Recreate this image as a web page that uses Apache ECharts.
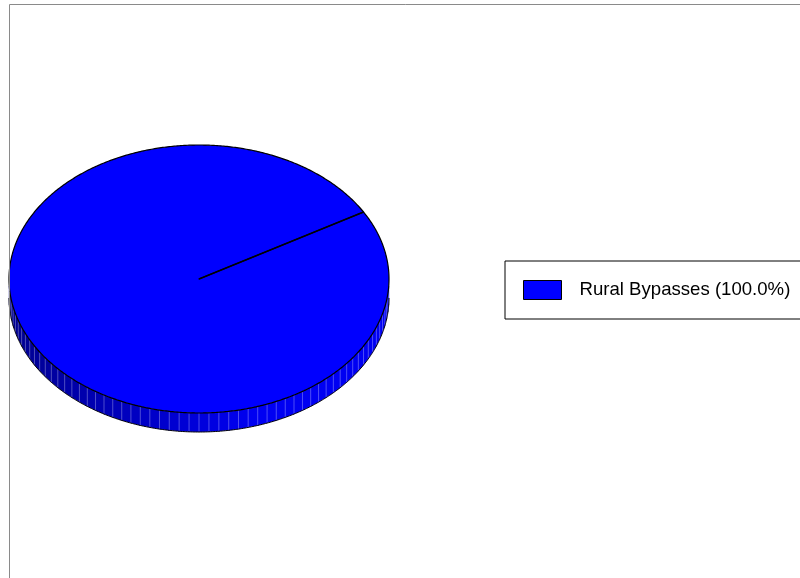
<!DOCTYPE html>
<html><head><meta charset="utf-8">
<script src="https://cdn.jsdelivr.net/npm/echarts@6/dist/echarts.min.js"></script>
<style>html,body{margin:0;padding:0;background:#fff}#c{width:800px;height:578px}</style>
</head><body><div id="c"></div>
<script>
// ---- data ----
const categories = ['Rural Bypasses'];
const values = [100];
const colors = ['#0000FF'];

// ---- geometry / style ----
const START = 30;          // degrees, first slice boundary (math convention)
const CX = 199, CY = 279, RX = 190, RY = 134, DEPTH = 19;
const STRIPE = 3;          // degrees between side stripes

const total = values.reduce((a, b) => a + b, 0);
const legendNames = categories.map((c, i) => c + ' (' + (values[i] / total * 100).toFixed(1) + '%)');

const rad = d => d * Math.PI / 180;
const pt = (d, off) => [CX + RX * Math.cos(rad(d)), CY - RY * Math.sin(rad(d)) + (off || 0)];

function rgbOf(hex) {
  const n = parseInt(hex.slice(1), 16);
  return [(n >> 16) & 255, (n >> 8) & 255, n & 255];
}
function shade(hex, b, w) {
  const c = rgbOf(hex).map(x => x * b);
  const m = c.map(x => Math.round(x + (255 - x) * (w || 0)));
  return 'rgb(' + m.join(',') + ')';
}

function makeRender(i) {
  return function (params, api) {
    let before = 0;
    for (let k = 0; k < i; k++) before += values[k];
    const v = api.value(1);
    const a0 = START - before / total * 360;
    const a1 = a0 - v / total * 360;
    const col = colors[i % colors.length];
    const children = [];
    const bright = m => Math.min(0.95, 0.86 + 0.3 * Math.cos(rad(m)));

    // side segments
    const breaks = [a1];
    for (let d = Math.ceil(a1 / STRIPE) * STRIPE; d < a0; d += STRIPE) if (d > a1) breaks.push(d);
    breaks.push(a0);
    for (let k = 0; k < breaks.length - 1; k++) {
      const s = breaks[k], e = breaks[k + 1];
      const m = (s + e) / 2;
      if (Math.sin(rad(m)) >= 0) continue;
      const c = shade(col, bright(m), 0);
      children.push({
        type: 'polygon',
        shape: { points: [pt(s - 0.3), pt(e + 0.3), pt(e + 0.3, DEPTH), pt(s - 0.3, DEPTH)] },
        style: { fill: c, lineWidth: 0 }
      });
    }
    // stripes
    for (let k = 1; k < breaks.length - 1; k++) {
      const d = breaks[k];
      if (Math.sin(rad(d)) >= -0.02) continue;
      const p1 = pt(d), p2 = pt(d, DEPTH);
      children.push({
        type: 'line',
        shape: { x1: p1[0], y1: p1[1], x2: p2[0], y2: p2[1] },
        style: { stroke: shade(col, bright(d), 0.3), lineWidth: 1, fill: null }
      });
    }
    // bottom outline
    let seg = [];
    const pushSeg = () => {
      if (seg.length > 1) children.push({ type: 'polyline', shape: { points: seg }, style: { stroke: '#000', lineWidth: 1, fill: null } });
      seg = [];
    };
    for (let d = a1; d <= a0 + 1e-6; d += 0.5) {
      if (Math.sin(rad(d)) <= 0) seg.push(pt(d, DEPTH)); else pushSeg();
    }
    pushSeg();

    // top face
    const top = [[CX, CY]];
    for (let d = a0; d >= a1 - 1e-6; d -= 0.5) top.push(pt(d));
    top.push(pt(a1));
    children.push({
      type: 'polygon',
      shape: { points: top },
      style: { fill: col, stroke: '#000', lineWidth: 1.2, lineJoin: 'round' }
    });
    // slice boundary line
    const pb = pt(a0);
    children.push({
      type: 'line',
      shape: { x1: CX, y1: CY, x2: pb[0], y2: pb[1] },
      style: { stroke: '#000', lineWidth: 1.6, fill: null }
    });
    return { type: 'group', children: children };
  };
}

const chart = echarts.init(document.getElementById('c'), null, { renderer: 'canvas' });
chart.setOption({
  animation: false,
  backgroundColor: '#fff',
  legend: {
    orient: 'vertical',
    left: 505,
    top: 261,
    padding: [19, 60, 19, 18],
    borderColor: '#000',
    borderWidth: 1,
    borderRadius: 0,
    itemWidth: 38,
    itemHeight: 19,
    icon: 'rect',
    itemStyle: { borderColor: '#000', borderWidth: 1 },
    textStyle: { fontSize: 18.6, fontFamily: 'Liberation Sans, Arial, sans-serif', color: '#000', padding: [0, 0, 0, 13] },
    data: legendNames
  },
  graphic: [{
    type: 'rect',
    z: 100,
    shape: { x: 9.5, y: 4.5, width: 1000, height: 800 },
    style: { fill: 'none', stroke: '#8a8a8a', lineWidth: 1 },
    silent: true
  }],
  series: categories.map((c, i) => ({
    type: 'custom',
    name: legendNames[i],
    coordinateSystem: 'none',
    renderItem: makeRender(i),
    itemStyle: { color: colors[i % colors.length] },
    data: [[i, values[i]]]
  }))
});
</script>
</body></html>
